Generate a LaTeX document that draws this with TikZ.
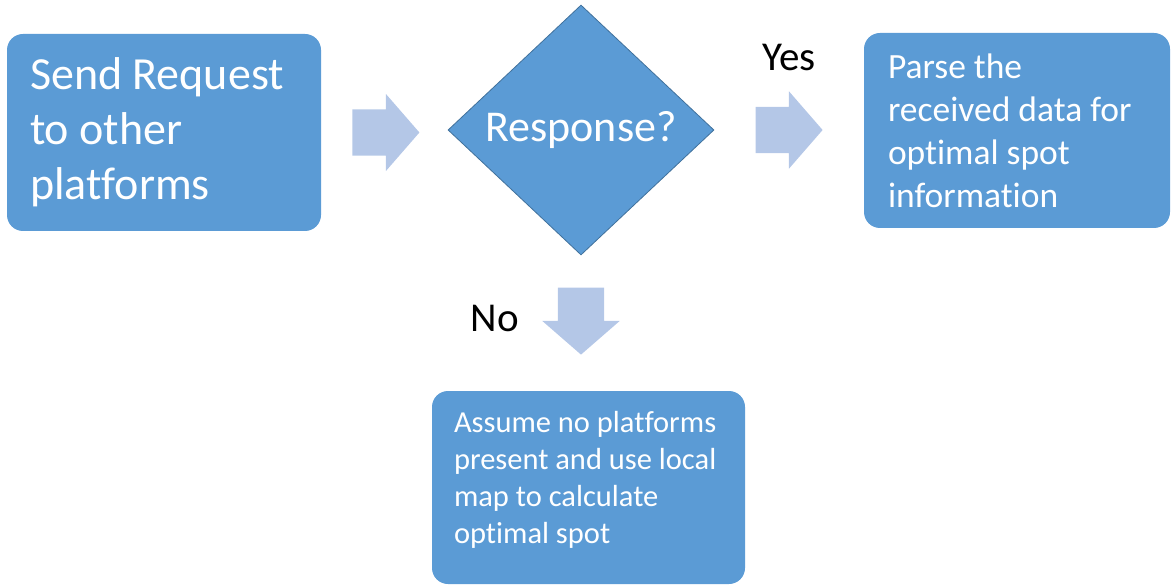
\documentclass[tikz,border=0pt]{standalone}
\usepackage{fontspec}
\setmainfont{Carlito}[Ligatures={NoCommon}]
\usepackage{xcolor}
\usetikzlibrary{shapes.geometric,shapes.arrows,positioning,calc}

\definecolor{boxblue}{HTML}{5B9BD5}
\definecolor{arrowblue}{HTML}{B4C7E7}
\definecolor{edgeblue}{HTML}{41719C}

\begin{document}
\begin{tikzpicture}[
  x=1pt, y=-1pt,
  box/.style={rectangle, rounded corners=16pt, fill=boxblue, text=white, align=flush left, inner ysep=0pt},
  decision/.style={diamond, aspect=1.06, fill=boxblue, draw=edgeblue, line width=0.8pt, text=white, inner sep=0pt, minimum width=266pt, minimum height=250pt},
  blockarrow/.style={single arrow, fill=arrowblue, inner xsep=0pt, inner ysep=23pt, minimum height=67pt, single arrow head extend=15.5pt, single arrow tip angle=98, anchor=tail},
  answer/.style={text=black, font=\fontsize{41}{49}\selectfont}
]
\useasboundingbox (0,0) rectangle (1172,585);

  % Steps
  \node[box, inner xsep=23pt, text width=268pt, minimum height=197pt, font=\fontsize{46}{55}\selectfont] (send) at (164,132.5) {Send Request\\to other\\platforms};
  \node[decision, font=\fontsize{44}{52}\selectfont] (resp) at (581,130) {Response?};
  \node[box, inner xsep=24pt, text width=258pt, minimum height=195pt, font=\fontsize{35.5}{43}\selectfont] (parse) at (1017,130.5) {Parse the\\received data for\\optimal spot\\information};
  \node[box, inner xsep=22pt, text width=269pt, minimum height=193pt, font=\fontsize{30.5}{37}\selectfont] (assume) at (588.5,487.5) {Assume no platforms\\present and use local\\map to calculate\\optimal spot\rule[-20pt]{0pt}{1pt}};

  % Block arrows
  \node[blockarrow] (go) at ($(send.east)+(31,0)$) {};
  \node[blockarrow] (yesarrow) at ($(resp.east)+(41,0)$) {};
  \node[blockarrow, rotate=-90] (noarrow) at ($(resp.south)+(0,32)$) {};

  % Answers
  \node[answer] (yes) at (789,58) {Yes};
  \node[answer] (no) at (495,318.5) {No};

\end{tikzpicture}
\end{document}
